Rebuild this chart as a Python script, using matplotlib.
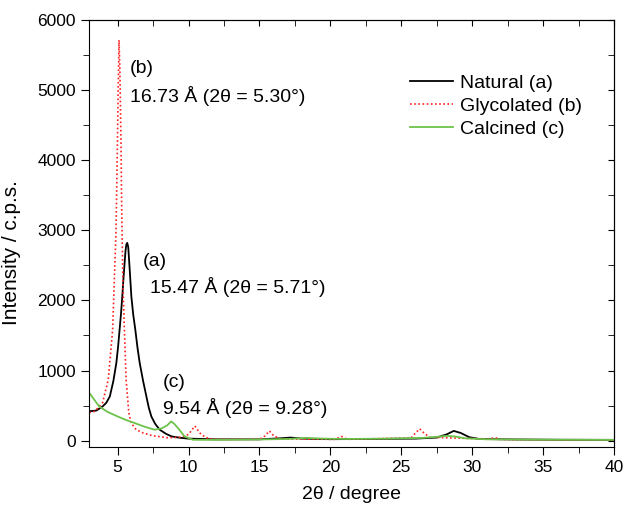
import matplotlib.pyplot as plt
from matplotlib.ticker import MultipleLocator

plt.rcParams['font.family'] = ['Liberation Sans', 'DejaVu Sans']

# natural (a)
nat_x = [3.0, 3.5, 3.95, 4.2, 4.45, 4.7, 4.91, 5.03, 5.14, 5.24, 5.33, 5.42, 5.5, 5.56, 5.62, 5.68, 5.75, 5.85, 5.97, 6.1, 6.25, 6.4,
         6.56, 6.8, 7.03, 7.2, 7.38, 7.65, 7.97, 8.4, 8.8, 9.4, 10.0, 12.0,
         15.0, 16.5, 17.2, 18.0, 20.0, 23.0, 26.0, 27.5, 28.2, 28.7, 29.2, 29.8, 30.5, 33.0, 36.0, 40.0]
nat_y = [420, 430, 490, 540, 630, 850, 1107, 1330, 1581, 1810, 2056, 2330, 2550, 2710, 2800, 2820, 2760, 2450, 2056, 1800, 1581, 1330,
         1107, 850, 631, 470, 346, 240, 157, 100, 62, 42, 30, 20,
         20, 35, 45, 30, 22, 25, 30, 45, 90, 140, 110, 50, 25, 18, 14, 12]

# glycolated (b)
gly_x = [3.0, 3.4, 3.94, 4.34, 4.65, 4.89, 4.97, 5.04, 5.1, 5.16, 5.23, 5.29, 5.38, 5.48, 5.6, 5.79, 5.95, 6.3, 6.75, 7.5, 8.5, 9.5, 10.0,
         10.45, 10.8, 11.2, 11.8, 15.0, 15.4, 15.7, 16.0, 16.5, 20.3, 20.8, 21.2, 25.7, 26.0, 26.3, 26.6, 27.0, 28.5, 31.2, 31.6, 32.0,
         36.0, 40.0]
gly_y = [400, 420, 541, 869, 1581, 3005, 4000, 5000, 5712, 5300, 4400, 3300, 2200, 1581, 869, 399, 256, 160, 114, 70, 43, 50, 90,
         210, 110, 45, 20, 20, 70, 140, 70, 25, 20, 60, 20, 40, 110, 170, 110, 50, 40, 25, 45, 18,
         12, 10]

# calcined (c)
cal_x = [3.0, 3.3, 3.7, 4.3, 5.0, 5.6, 6.2, 6.9, 7.6, 8.1, 8.5, 8.78, 9.0, 9.3, 9.72, 10.3, 11.5,
         15.0, 17.0, 18.3, 19.5, 21.0, 24.0, 26.5, 27.5, 28.2, 28.8, 29.5, 31.0, 35.0, 40.0]
cal_y = [684, 600, 489, 410, 346, 295, 252, 200, 157, 175, 220, 275, 240, 170, 62, 14, 12,
         18, 25, 40, 30, 25, 30, 40, 55, 70, 60, 35, 20, 15, 12]

fig = plt.figure(figsize=(6.24, 5.08), dpi=100)
ax = fig.add_axes([0.143, 0.12, 0.841, 0.841])

ax.plot(nat_x, nat_y, color='black', lw=1.3, label='Natural (a)')
ax.plot(gly_x, gly_y, color='#ff2020', lw=1.2, ls=(0, (1, 1.5)), label='Glycolated (b)')
ax.plot(cal_x, cal_y, color='#6cc24a', lw=1.3, label='Calcined (c)')

ax.set_xlim(3, 40)
ax.set_ylim(-90, 6000)
ax.xaxis.set_major_locator(MultipleLocator(5))
ax.xaxis.set_minor_locator(MultipleLocator(2.5))
ax.yaxis.set_major_locator(MultipleLocator(1000))
ax.yaxis.set_minor_locator(MultipleLocator(500))
ax.tick_params(which='both', direction='out', labelsize=12.5)
ax.tick_params(which='major', length=6)
ax.tick_params(which='minor', length=4)

# inward ticks on top and right
top = ax.secondary_xaxis('top')
top.xaxis.set_major_locator(MultipleLocator(5))
top.xaxis.set_minor_locator(MultipleLocator(2.5))
top.tick_params(which='both', direction='in', labeltop=False, length=4)
right = ax.secondary_yaxis('right')
right.yaxis.set_major_locator(MultipleLocator(1000))
right.yaxis.set_minor_locator(MultipleLocator(500))
right.tick_params(which='both', direction='in', labelright=False, length=4)

ax.set_xlabel('2θ / degree', fontsize=14, labelpad=8)
ax.set_ylabel('Intensity / c.p.s.', fontsize=15)
ax.yaxis.set_label_coords(-0.13, 0.455)

ax.text(5.85, 5313, '(b)', fontsize=14, va='center')
ax.text(5.85, 4915, '16.73 Å (2θ = 5.30°)', fontsize=14, va='center')
ax.text(6.78, 2550, '(a)', fontsize=14, va='center')
ax.text(7.26, 2194, '15.47 Å (2θ = 5.71°)', fontsize=14, va='center')
ax.text(8.18, 826, '(c)', fontsize=14, va='center')
ax.text(8.18, 470, '9.54 Å (2θ = 9.28°)', fontsize=14, va='center')

ax.legend(loc='upper left', bbox_to_anchor=(0.612, 0.872), frameon=False, fontsize=14,
          borderpad=0, borderaxespad=0, handlelength=2.2, handletextpad=0.36, labelspacing=0.27)

fig.savefig('out.png', dpi=100)
